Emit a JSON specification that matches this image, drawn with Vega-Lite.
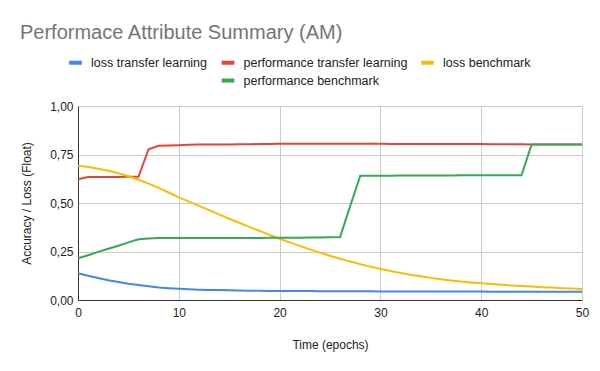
{
  "$schema": "https://vega.github.io/schema/vega-lite/v6.json",
  "width": 504,
  "height": 194,
  "autosize": {"type": "none"},
  "padding": {"left": 78, "top": 106, "right": 18, "bottom": 71},
  "background": "white",
  "title": {
    "text": "Performace Attribute Summary (AM)",
    "anchor": "start",
    "frame": "group",
    "font": "Liberation Sans",
    "fontSize": 20,
    "fontWeight": "normal",
    "color": "#757575",
    "baseline": "alphabetic",
    "dx": -58,
    "dy": 20,
    "offset": 15.4
  },
  "data": {
    "values": [
      {"epoch": 0, "loss transfer learning": 0.138, "performance transfer learning": 0.622, "loss benchmark": 0.692, "performance benchmark": 0.215},
      {"epoch": 1, "loss transfer learning": 0.125, "performance transfer learning": 0.634, "loss benchmark": 0.685, "performance benchmark": 0.231},
      {"epoch": 2, "loss transfer learning": 0.113, "performance transfer learning": 0.634, "loss benchmark": 0.676, "performance benchmark": 0.248},
      {"epoch": 3, "loss transfer learning": 0.102, "performance transfer learning": 0.634, "loss benchmark": 0.666, "performance benchmark": 0.264},
      {"epoch": 4, "loss transfer learning": 0.093, "performance transfer learning": 0.634, "loss benchmark": 0.653, "performance benchmark": 0.280},
      {"epoch": 5, "loss transfer learning": 0.084, "performance transfer learning": 0.635, "loss benchmark": 0.638, "performance benchmark": 0.297},
      {"epoch": 6, "loss transfer learning": 0.077, "performance transfer learning": 0.635, "loss benchmark": 0.620, "performance benchmark": 0.313},
      {"epoch": 7, "loss transfer learning": 0.071, "performance transfer learning": 0.777, "loss benchmark": 0.600, "performance benchmark": 0.317},
      {"epoch": 8, "loss transfer learning": 0.065, "performance transfer learning": 0.795, "loss benchmark": 0.578, "performance benchmark": 0.319},
      {"epoch": 9, "loss transfer learning": 0.061, "performance transfer learning": 0.797, "loss benchmark": 0.554, "performance benchmark": 0.320},
      {"epoch": 10, "loss transfer learning": 0.058, "performance transfer learning": 0.798, "loss benchmark": 0.529, "performance benchmark": 0.320},
      {"epoch": 11, "loss transfer learning": 0.055, "performance transfer learning": 0.800, "loss benchmark": 0.507, "performance benchmark": 0.320},
      {"epoch": 12, "loss transfer learning": 0.053, "performance transfer learning": 0.801, "loss benchmark": 0.485, "performance benchmark": 0.320},
      {"epoch": 13, "loss transfer learning": 0.052, "performance transfer learning": 0.801, "loss benchmark": 0.463, "performance benchmark": 0.320},
      {"epoch": 14, "loss transfer learning": 0.051, "performance transfer learning": 0.802, "loss benchmark": 0.441, "performance benchmark": 0.320},
      {"epoch": 15, "loss transfer learning": 0.050, "performance transfer learning": 0.802, "loss benchmark": 0.419, "performance benchmark": 0.320},
      {"epoch": 16, "loss transfer learning": 0.049, "performance transfer learning": 0.803, "loss benchmark": 0.398, "performance benchmark": 0.320},
      {"epoch": 17, "loss transfer learning": 0.048, "performance transfer learning": 0.803, "loss benchmark": 0.377, "performance benchmark": 0.320},
      {"epoch": 18, "loss transfer learning": 0.048, "performance transfer learning": 0.804, "loss benchmark": 0.356, "performance benchmark": 0.320},
      {"epoch": 19, "loss transfer learning": 0.047, "performance transfer learning": 0.804, "loss benchmark": 0.336, "performance benchmark": 0.321},
      {"epoch": 20, "loss transfer learning": 0.047, "performance transfer learning": 0.805, "loss benchmark": 0.316, "performance benchmark": 0.321},
      {"epoch": 21, "loss transfer learning": 0.046, "performance transfer learning": 0.805, "loss benchmark": 0.297, "performance benchmark": 0.321},
      {"epoch": 22, "loss transfer learning": 0.046, "performance transfer learning": 0.805, "loss benchmark": 0.279, "performance benchmark": 0.321},
      {"epoch": 23, "loss transfer learning": 0.046, "performance transfer learning": 0.805, "loss benchmark": 0.261, "performance benchmark": 0.322},
      {"epoch": 24, "loss transfer learning": 0.045, "performance transfer learning": 0.805, "loss benchmark": 0.244, "performance benchmark": 0.322},
      {"epoch": 25, "loss transfer learning": 0.045, "performance transfer learning": 0.805, "loss benchmark": 0.228, "performance benchmark": 0.323},
      {"epoch": 26, "loss transfer learning": 0.045, "performance transfer learning": 0.805, "loss benchmark": 0.213, "performance benchmark": 0.325},
      {"epoch": 27, "loss transfer learning": 0.045, "performance transfer learning": 0.805, "loss benchmark": 0.198, "performance benchmark": 0.483},
      {"epoch": 28, "loss transfer learning": 0.045, "performance transfer learning": 0.805, "loss benchmark": 0.185, "performance benchmark": 0.641},
      {"epoch": 29, "loss transfer learning": 0.045, "performance transfer learning": 0.805, "loss benchmark": 0.172, "performance benchmark": 0.641},
      {"epoch": 30, "loss transfer learning": 0.044, "performance transfer learning": 0.805, "loss benchmark": 0.160, "performance benchmark": 0.641},
      {"epoch": 31, "loss transfer learning": 0.044, "performance transfer learning": 0.804, "loss benchmark": 0.149, "performance benchmark": 0.641},
      {"epoch": 32, "loss transfer learning": 0.044, "performance transfer learning": 0.804, "loss benchmark": 0.139, "performance benchmark": 0.642},
      {"epoch": 33, "loss transfer learning": 0.044, "performance transfer learning": 0.804, "loss benchmark": 0.130, "performance benchmark": 0.642},
      {"epoch": 34, "loss transfer learning": 0.044, "performance transfer learning": 0.804, "loss benchmark": 0.122, "performance benchmark": 0.642},
      {"epoch": 35, "loss transfer learning": 0.044, "performance transfer learning": 0.804, "loss benchmark": 0.114, "performance benchmark": 0.642},
      {"epoch": 36, "loss transfer learning": 0.044, "performance transfer learning": 0.804, "loss benchmark": 0.107, "performance benchmark": 0.642},
      {"epoch": 37, "loss transfer learning": 0.044, "performance transfer learning": 0.804, "loss benchmark": 0.101, "performance benchmark": 0.642},
      {"epoch": 38, "loss transfer learning": 0.044, "performance transfer learning": 0.804, "loss benchmark": 0.095, "performance benchmark": 0.643},
      {"epoch": 39, "loss transfer learning": 0.044, "performance transfer learning": 0.804, "loss benchmark": 0.090, "performance benchmark": 0.643},
      {"epoch": 40, "loss transfer learning": 0.044, "performance transfer learning": 0.804, "loss benchmark": 0.086, "performance benchmark": 0.643},
      {"epoch": 41, "loss transfer learning": 0.043, "performance transfer learning": 0.803, "loss benchmark": 0.082, "performance benchmark": 0.643},
      {"epoch": 42, "loss transfer learning": 0.043, "performance transfer learning": 0.803, "loss benchmark": 0.078, "performance benchmark": 0.643},
      {"epoch": 43, "loss transfer learning": 0.043, "performance transfer learning": 0.803, "loss benchmark": 0.075, "performance benchmark": 0.643},
      {"epoch": 44, "loss transfer learning": 0.043, "performance transfer learning": 0.803, "loss benchmark": 0.072, "performance benchmark": 0.643},
      {"epoch": 45, "loss transfer learning": 0.043, "performance transfer learning": 0.802, "loss benchmark": 0.069, "performance benchmark": 0.802},
      {"epoch": 46, "loss transfer learning": 0.043, "performance transfer learning": 0.802, "loss benchmark": 0.066, "performance benchmark": 0.802},
      {"epoch": 47, "loss transfer learning": 0.043, "performance transfer learning": 0.802, "loss benchmark": 0.064, "performance benchmark": 0.802},
      {"epoch": 48, "loss transfer learning": 0.043, "performance transfer learning": 0.802, "loss benchmark": 0.061, "performance benchmark": 0.802},
      {"epoch": 49, "loss transfer learning": 0.043, "performance transfer learning": 0.802, "loss benchmark": 0.059, "performance benchmark": 0.802},
      {"epoch": 50, "loss transfer learning": 0.043, "performance transfer learning": 0.802, "loss benchmark": 0.057, "performance benchmark": 0.802}
    ]
  },
  "transform": [
    {"fold": ["loss transfer learning", "performance transfer learning", "loss benchmark", "performance benchmark"], "as": ["series", "value"]}
  ],
  "mark": {"type": "line", "strokeWidth": 2, "interpolate": "linear"},
  "encoding": {
    "x": {
      "field": "epoch",
      "type": "quantitative",
      "scale": {"domain": [0, 50], "nice": false},
      "axis": {
        "values": [0, 10, 20, 30, 40, 50],
        "title": "Time (epochs)",
        "labelPadding": 7,
        "labelFlush": false,
        "titleY": 48,
        "titleBaseline": "alphabetic"
      }
    },
    "y": {
      "field": "value",
      "type": "quantitative",
      "scale": {"domain": [0, 1], "nice": false},
      "axis": {
        "values": [0, 0.25, 0.5, 0.75, 1],
        "labelExpr": "replace(format(datum.value, '.2f'), '.', ',')",
        "title": "Accuracy / Loss (Float)",
        "labelPadding": 5,
        "labelFlush": false,
        "titleX": -47.5,
        "titleBaseline": "alphabetic"
      }
    },
    "color": {
      "field": "series",
      "type": "nominal",
      "scale": {
        "domain": ["loss transfer learning", "performance transfer learning", "loss benchmark", " ", "performance benchmark"],
        "range": ["#4285F4", "#EA4335", "#FBBC04", "transparent", "#34A853"]
      },
      "legend": {
        "orient": "none",
        "direction": "horizontal",
        "legendX": -11,
        "legendY": -52,
        "columns": 3,
        "title": null,
        "symbolType": "stroke",
        "symbolSize": 160,
        "symbolStrokeWidth": 4,
        "labelFont": "Liberation Sans",
        "labelFontSize": 12.5,
        "labelColor": "#222222",
        "labelLimit": 400,
        "labelOffset": 7,
        "columnPadding": 5.5,
        "rowPadding": 1,
        "padding": 0
      }
    }
  },
  "config": {
    "view": {"stroke": null},
    "axis": {
      "labelFont": "Liberation Sans",
      "labelFontSize": 12,
      "labelColor": "#222222",
      "titleFont": "Liberation Sans",
      "titleFontSize": 12,
      "titleFontWeight": "normal",
      "titleColor": "#222222",
      "gridColor": "#cccccc",
      "gridWidth": 1,
      "ticks": false,
      "domainColor": "#333333",
      "domainWidth": 1
    }
  }
}
